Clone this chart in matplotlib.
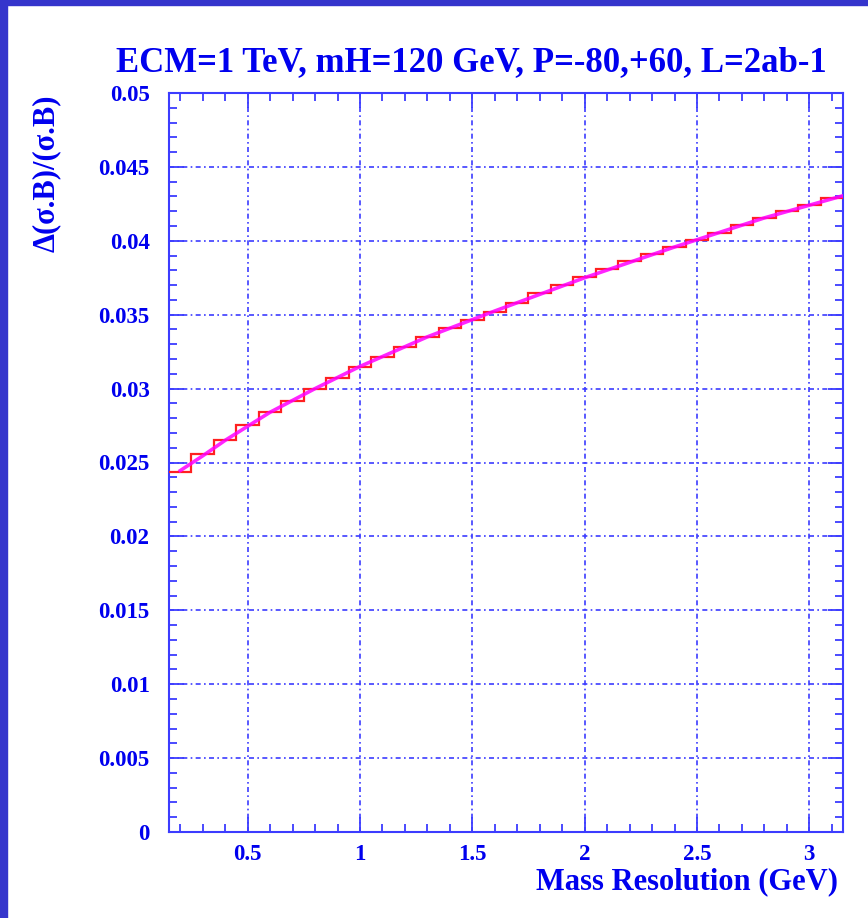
import numpy as np
import matplotlib
matplotlib.use("Agg")
import matplotlib.pyplot as plt
from matplotlib.patches import Rectangle
from matplotlib.ticker import MultipleLocator

# histogram: sigma.B relative error per mass resolution bin (bin width 0.1 GeV)
mass_res = [0.2, 0.3, 0.4, 0.5, 0.6, 0.7, 0.8, 0.9, 1.0, 1.1,
            1.2, 1.3, 1.4, 1.5, 1.6, 1.7, 1.8, 1.9, 2.0, 2.1,
            2.2, 2.3, 2.4, 2.5, 2.6, 2.7, 2.8, 2.9, 3.0, 3.1]
rel_err = [0.02438, 0.02557, 0.02652, 0.02754, 0.02844, 0.02916, 0.02995, 0.03074, 0.03148, 0.03216,
           0.03284, 0.03351, 0.03408, 0.03464, 0.03520, 0.03581, 0.03645, 0.03701, 0.03753, 0.03810,
           0.03863, 0.03911, 0.03956, 0.04005, 0.04055, 0.04107, 0.04152, 0.04202, 0.04242, 0.04288]

# fitted curve
fit_x = [0.2, 0.3, 0.4, 0.6, 0.8, 1.0, 1.3, 1.6, 2.0, 2.4, 2.8, 3.15]
fit_y = [0.02445, 0.02545, 0.02650, 0.02840, 0.03000, 0.03150, 0.03350, 0.03525, 0.03750, 0.03958, 0.04155, 0.04305]

title = "ECM=1 TeV, mH=120 GeV, P=-80,+60, L=2ab-1"
xlabel = "Mass Resolution (GeV)"
ylabel = "\u0394(\u03c3.B)/(\u03c3.B)"

BLUE = "#0000ee"
AXBLUE = "#3c3cff"
FRAME = "#3535cc"

plt.rcParams['font.family'] = ['Liberation Serif', 'DejaVu Serif']
plt.rcParams['font.weight'] = 'bold'

fig = plt.figure(figsize=(8.68, 9.18), dpi=100)
fig.patches.append(Rectangle((0, 1 - 5 / 918), 1, 5 / 918, transform=fig.transFigure,
                             color=FRAME, zorder=0))
fig.patches.append(Rectangle((0, 0), 7 / 868, 1, transform=fig.transFigure,
                             color=FRAME, zorder=0))

ax = fig.add_axes([169 / 868, 86 / 918, 674 / 868, 739 / 918])

centers = np.array(mass_res)
edges = np.append(centers - 0.05, centers[-1] + 0.05)
ax.stairs(rel_err, edges, color="#ff2020", lw=1.6, baseline=None, zorder=3)
ax.plot(fit_x, fit_y, color="#ff00ff", lw=2.6, alpha=0.85, zorder=4)

ax.set_xlim(0.15, 3.15)
ax.set_ylim(0, 0.05)
ax.xaxis.set_major_locator(MultipleLocator(0.5))
ax.xaxis.set_minor_locator(MultipleLocator(0.1))
ax.yaxis.set_major_locator(MultipleLocator(0.005))
ax.yaxis.set_minor_locator(MultipleLocator(0.001))
ax.set_xticks([0.5, 1, 1.5, 2, 2.5, 3])
ax.set_xticklabels(["0.5", "1", "1.5", "2", "2.5", "3"])
ax.set_yticks(np.arange(0, 0.0501, 0.005))
ax.set_yticklabels(["0", "0.005", "0.01", "0.015", "0.02", "0.025",
                    "0.03", "0.035", "0.04", "0.045", "0.05"])

ax.grid(True, which="major", color=AXBLUE, lw=1.2, linestyle=(0, (3, 2, 1, 2)))
ax.tick_params(which="both", direction="in", top=True, right=True,
               color=AXBLUE, width=1.3, labelcolor=BLUE)
ax.tick_params(which="major", length=11, labelsize=16.5)
ax.tick_params(axis="y", which="major", pad=14)
ax.tick_params(axis="x", which="major", pad=9)
ax.tick_params(which="minor", length=6)
for s in ax.spines.values():
    s.set_color(AXBLUE)
    s.set_linewidth(1.5)
for lab in ax.get_xticklabels() + ax.get_yticklabels():
    lab.set_fontweight("bold")

fig.text(0.5 * (117 + 826) / 868, 1 - 63 / 918, title, ha="center", va="center",
         fontsize=25, fontweight="bold", color=BLUE)
fig.text(838 / 868, 1 - 882 / 918, xlabel, ha="right", va="center",
         fontsize=22, fontweight="bold", color=BLUE)
fig.text(46 / 868, 1 - 95 / 918, ylabel, ha="center", va="top", rotation=90,
         fontsize=22, fontweight="bold", color=BLUE)

fig.savefig("out.png", dpi=100)
